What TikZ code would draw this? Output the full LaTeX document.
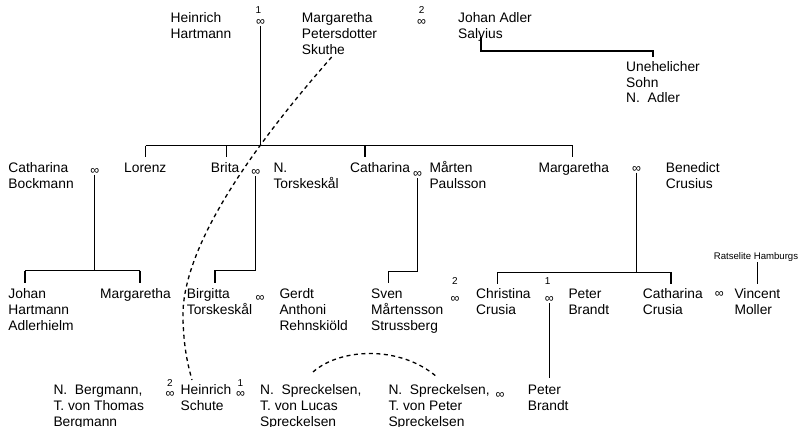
\documentclass[tikz,border=0pt]{standalone}
\usepackage{fontspec}
\setmainfont{Liberation Sans}
\newcommand{\mlines}[1]{\vtop{\halign{##\hfil\cr#1\crcr}}}
\begin{document}
\begin{tikzpicture}[x=1pt,y=-1pt,
  person/.style={anchor=base west, inner sep=0pt, font=\fontsize{13.8}{15.7}\selectfont},
  sym/.style={inner sep=0pt, font=\fontsize{12.5}{14}\selectfont},
  num/.style={inner sep=0pt, font=\fontsize{10}{12}\selectfont},
  tinylabel/.style={anchor=base, inner sep=0pt, font=\fontsize{9.6}{11}\selectfont},
  conn/.style={line width=1.3pt},
  dashconn/.style={line width=1.3pt, dash pattern=on 4pt off 3.5pt}]
\useasboundingbox (0,0) rectangle (803,427);

% ---------- row 1 ----------
\node[person] (hh) at (170.5,23) {\mlines{Heinrich\cr Hartmann}};
\node[num] (n1) at (258.5,10) {1};
\node[sym] (i1) at (260.5,22.8) {∞};
\node[person] (mps) at (301.7,23) {\mlines{Margaretha\cr Petersdotter\cr Skuthe}};
\node[num] (n2) at (421.7,10) {2};
\node[sym] (i2) at (421.7,22.8) {∞};
\node[person] (jas) at (458,23) {\mlines{Johan Adler\cr Salyius}};
\node[person] (us) at (626,71.5) {\mlines{Unehelicher\cr Sohn\cr N.~~Adler}};

% ---------- row 2 ----------
\node[person] (cb) at (8.3,172.5) {\mlines{Catharina\cr Bockmann}};
\node[sym] (i3) at (94.8,171.5) {∞};
\node[person] (lor) at (124,172.5) {Lorenz};
\node[person] (bri) at (210.7,172.5) {Brita};
\node[sym] (i4) at (255.8,173) {∞};
\node[person] (nt) at (273.3,172.5) {\mlines{N.\cr Torskeskål}};
\node[person] (cat) at (350,172.5) {Catharina};
\node[sym] (i5) at (417.6,175) {∞};
\node[person] (mp) at (429.3,172.5) {\mlines{Mårten\cr Paulsson}};
\node[person] (mar) at (538.3,172.5) {Margaretha};
\node[sym] (i6) at (636.6,169.5) {∞};
\node[person] (bc) at (665.7,172.5) {\mlines{Benedict\cr Crusius}};

% ---------- row 3 ----------
\node[person] (jha) at (8.3,299) {\mlines{Johan\cr Hartmann\cr Adlerhielm}};
\node[person] (mar2) at (100,299) {Margaretha};
\node[person] (bt) at (186.7,299) {\mlines{Birgitta\cr Torskeskål}};
\node[sym] (i7) at (260,299) {∞};
\node[person] (gar) at (279.3,299) {\mlines{Gerdt\cr Anthoni\cr Rehnskiöld}};
\node[person] (sms) at (371,299) {\mlines{Sven\cr Mårtensson\cr Strussberg}};
\node[num] (n8) at (455,281) {2};
\node[sym] (i8) at (455,300) {∞};
\node[person] (cc) at (476,299) {\mlines{Christina\cr Crusia}};
\node[num] (n9) at (547.7,281) {1};
\node[sym] (i9) at (549.2,300) {∞};
\node[person] (pb) at (568.3,299) {\mlines{Peter\cr Brandt}};
\node[person] (cac) at (642.7,299) {\mlines{Catharina\cr Crusia}};
\node[sym] (i10) at (719.3,294.5) {∞};
\node[person] (vm) at (734.3,299) {\mlines{Vincent\cr Moller}};
\node[tinylabel] (rh) at (756,260) {Ratselite Hamburgs};

% ---------- row 4 ----------
\node[person] (nb) at (53.3,395) {\mlines{N.~~Bergmann,\cr T. von Thomas\cr Bergmann}};
\node[num] (n11) at (170,383.5) {2};
\node[sym] (i11) at (170,394.5) {∞};
\node[person] (hs) at (180.5,395) {\mlines{Heinrich\cr Schute}};
\node[num] (n12) at (240.5,383.5) {1};
\node[sym] (i12) at (240.5,394.5) {∞};
\node[person] (ns1) at (260,395) {\mlines{N.~~Spreckelsen,\cr T. von Lucas\cr Spreckelsen}};
\node[person] (ns2) at (388.3,395) {\mlines{N.~~Spreckelsen,\cr T. von Peter\cr Spreckelsen}};
\node[sym] (i13) at (500,396) {∞};
\node[person] (pb2) at (527.7,395) {\mlines{Peter\cr Brandt}};

% ---------- connectors ----------
% Hartmann family
\coordinate (dLor) at (145.7,145.7);
\coordinate (dBri) at (226.7,145.7);
\coordinate (dCat) at (365,145.7);
\coordinate (dMar) at (572.7,145.7);
\draw[conn] (i1.south) -- (i1.south |- dLor);
\draw[conn] (dLor) -- (dMar);
\foreach \c in {dLor,dBri,dCat,dMar} \draw[conn] (\c) -- ++(0,11.6);

% Salyius -> son
\coordinate (sal) at (481,37);
\coordinate (salm) at (481,51);
\coordinate (sohn) at (653,57.5);
\draw[conn] (sal) -- (salm) -| (sohn);

% Catharina Bockmann family
\coordinate (cbL) at (25,270.7);
\coordinate (cbR) at (140,270.7);
\draw[conn] (i3.south) -- (i3.south |- cbL);
\draw[conn] (cbL) -- (cbR);
\draw[conn] (cbL) -- ++(0,12);
\draw[conn] (cbR) -- ++(0,12);

% Brita -> Birgitta
\coordinate (btc) at (215,270.7);
\draw[conn] (i4.south) |- (btc) -- ++(0,12);

% Catharina -> Sven
\coordinate (smc) at (388.3,271.7);
\draw[conn] (i5.south) |- (smc) -- ++(0,11.6);

% Margaretha -> Christina, Catharina
\coordinate (ccL) at (497.7,272.3);
\coordinate (ccR) at (671,272.3);
\draw[conn] (i6.south) -- (i6.south |- ccL);
\draw[conn] (ccL) -- (ccR);
\draw[conn] (ccL) -- ++(0,12);
\draw[conn] (ccR) -- ++(0,12);

% Christina -> Peter Brandt
\coordinate (pbtop) at (549.2,378.3);
\draw[conn] (i9.south) -- (pbtop);

% Ratselite -> Vincent
\coordinate (vmtop) at (757.7,284.3);
\draw[conn] (rh.south -| vmtop) -- (vmtop);

% dashed identity lines
\coordinate (sk) at (331.7,57);
\coordinate (hstop) at (192,380);
\draw[dashconn] (sk) .. controls (250,150) and (180,250) .. (183,320)
  .. controls (184,350) and (188,365) .. (hstop);
\coordinate (sp1) at (313,372);
\coordinate (sp2) at (437,377);
\draw[dashconn] (sp1) .. controls (340,348) and (400,345) .. (sp2);
\end{tikzpicture}
\end{document}
